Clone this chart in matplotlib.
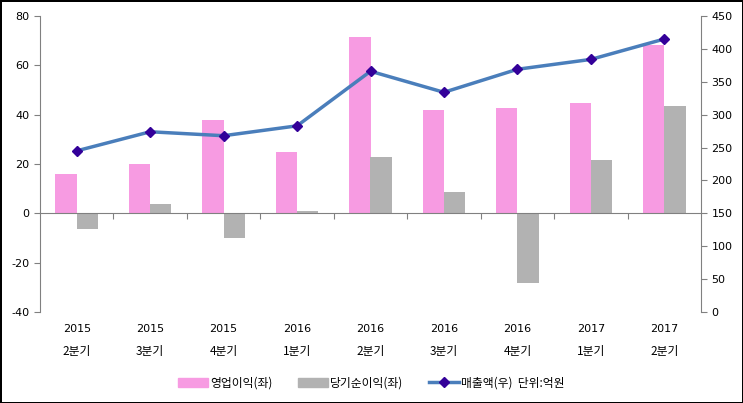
import numpy as np
import matplotlib.pyplot as plt
from matplotlib.patches import Patch
from matplotlib.lines import Line2D
import matplotlib.transforms as mtransforms

plt.rcParams['font.family'] = ['DejaVu Sans', 'Noto Sans CJK KR']
plt.rcParams['axes.unicode_minus'] = False

years = ['2015', '2015', '2015', '2016', '2016', '2016', '2016', '2017', '2017']
quarters = ['2분기', '3분기', '4분기', '1분기', '2분기', '3분기', '4분기', '1분기', '2분기']
op_profit = [16.0, 20.2, 38.0, 25.0, 71.3, 42.0, 42.8, 44.8, 68.4]
net_profit = [-6.2, 3.9, -10.2, 1.0, 22.9, 8.7, -28.2, 21.6, 43.4]
sales = [245, 274, 268, 283, 366, 334, 369, 384, 415]

pink = '#F79BE2'
grey = '#B2B2B2'
line_col = '#4A7EBB'
marker_col = '#330099'
axis_col = '#808080'

fig = plt.figure(figsize=(7.43, 4.03), dpi=100)
fig.patch.set_edgecolor('black')
fig.patch.set_linewidth(2)
ax = fig.add_axes([40 / 743, 1 - 312 / 403, 661 / 743, 296 / 403])
ax2 = ax.twinx()

x = np.arange(len(op_profit))
w = 0.29
ax.bar(x - w / 2, op_profit, w, color=pink, zorder=2)
ax.bar(x + w / 2, net_profit, w, color=grey, zorder=2)
ax.set_xlim(-0.5, len(x) - 0.5)
ax.set_ylim(-40, 80)
ax.set_yticks(range(-40, 81, 20))

# sales line on the right axis
ax2.plot(x, sales, color=line_col, lw=2.5, marker='D', ms=5.5,
         mfc=marker_col, mec=marker_col, zorder=3)
ax2.set_ylim(0, 450)
ax2.set_yticks(range(0, 451, 50))

for a in (ax, ax2):
    a.spines['top'].set_visible(False)
    for s in ('left', 'right', 'bottom'):
        a.spines[s].set_color(axis_col)
    a.tick_params(axis='y', colors='black', labelsize=8, length=4, color=axis_col)
ax2.spines['bottom'].set_visible(False)
ax2.spines['left'].set_visible(False)
ax.spines['right'].set_visible(False)
ax.spines['bottom'].set_position(('data', 0))

ax.set_xticks(np.arange(0.5, len(x) - 1, 1.0))
ax.tick_params(axis='x', length=4, color=axis_col, labelbottom=False)

trans = mtransforms.blended_transform_factory(ax.transData, ax.transAxes)
for i, (yr, q) in enumerate(zip(years, quarters)):
    ax.text(i, -0.058, yr, transform=trans, ha='center', va='center', fontsize=8)
    ax.text(i, -0.135, q, transform=trans, ha='center', va='center', fontsize=8.5,
            family=['Noto Sans CJK KR', 'DejaVu Sans'])

handles = [Patch(color=pink), Patch(color=grey),
           Line2D([0], [0], color=line_col, lw=2.5, marker='D', ms=5,
                  mfc=marker_col, mec=marker_col)]
labels = ['영업이익(좌)', '당기순이익(좌)', '매출액(우)  단위:억원']
fig.legend(handles, labels, loc='center', bbox_to_anchor=(0.5, 1 - 383 / 403),
           ncol=3, frameon=False, handlelength=2.5, columnspacing=2.2,
           handletextpad=0.2, prop={'family': ['Noto Sans CJK KR', 'DejaVu Sans'], 'size': 8.5})

fig.savefig('out.png', dpi=100, edgecolor=fig.get_edgecolor())
